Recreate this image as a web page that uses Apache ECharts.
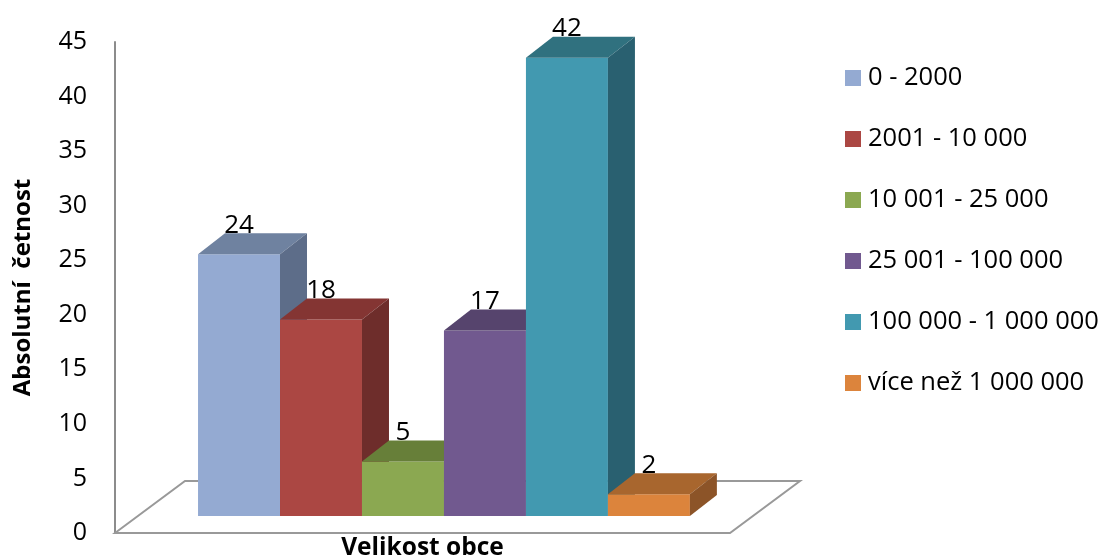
<!DOCTYPE html>
<html>
<head>
<meta charset="utf-8">
<script src="https://cdn.jsdelivr.net/npm/echarts@6/dist/echarts.min.js"></script>
<style>
  html, body { margin: 0; padding: 0; background: #fff; }
  #main { width: 1104px; height: 558px; }
</style>
</head>
<body>
<div id="main"></div>
<script>
// data
var categories = ['Velikost obce'];
var groups = ['0 - 2000', '2001 - 10 000', '10 001 - 25 000', '25 001 - 100 000', '100 000 - 1 000 000', 'více než 1 000 000'];
var counts = [24, 18, 5, 17, 42, 2];
var yMin = 0, yMax = 45, yStep = 5;

// barvy: predni stena, horni stena, bocni stena
var frontCol = ['#94aad2', '#ab4743', '#8ba851', '#71598f', '#4299b0', '#dc843c'];
var topCol   = ['#6f82a0', '#843533', '#677f39', '#56446d', '#30717f', '#a8662e'];
var sideCol  = ['#5d6d89', '#6e2d2b', '#566b30', '#48395c', '#296070', '#8c5428'];

var FONT = 'Open Sans';
var LIFT = 17, DX = 27, DY = 21;

var myChart = echarts.init(document.getElementById('main'));

function floorItem(params, api) {
    var cs = params.coordSys;
    var y0 = api.coord([0, 0])[1];
    var x1 = cs.x, x2 = cs.x + cs.width;
    return {
        type: 'polygon',
        shape: { points: [[x1, y0], [x1 + 70, y0 - 52], [x2 + 70, y0 - 52], [x2, y0]] },
        style: { fill: '#fff', stroke: '#999', lineWidth: 2 }
    };
}

function barItem(i) {
    return function (params, api) {
        var cs = params.coordSys;
        var band = cs.width;
        var base = api.coord([api.value(0), 0]);
        var top = api.coord([api.value(0), api.value(1)]);
        var w = band * 0.1333;
        var x0 = cs.x + band * 0.135 + i * w;
        var yb = base[1] - LIFT, yt = top[1] - LIFT;
        return {
            type: 'group',
            children: [{
                type: 'rect',
                shape: { x: x0, y: yt, width: w, height: yb - yt },
                style: { fill: frontCol[i] }
            }, {
                type: 'polygon',
                shape: { points: [[x0, yt], [x0 + DX, yt - DY], [x0 + w + DX, yt - DY], [x0 + w, yt]] },
                style: { fill: topCol[i] }
            }, {
                type: 'polygon',
                shape: { points: [[x0 + w, yt], [x0 + w + DX, yt - DY], [x0 + w + DX, yb - DY], [x0 + w, yb]] },
                style: { fill: sideCol[i] }
            }, {
                type: 'text',
                style: {
                    text: String(api.value(1)),
                    x: x0 + w / 2, y: yt - DY + 5,
                    align: 'center', verticalAlign: 'bottom',
                    fill: '#000', font: '26px "' + FONT + '"'
                }
            }]
        };
    };
}

var series = [{
    type: 'custom',
    name: 'floor',
    silent: true,
    z: 1,
    renderItem: floorItem,
    data: [[0, 0]]
}];
groups.forEach(function (g, i) {
    series.push({
        type: 'custom',
        name: g,
        z: 2,
        itemStyle: { color: frontCol[i] },
        renderItem: barItem(i),
        encode: { x: 0, y: 1 },
        data: [[0, counts[i]]]
    });
});

myChart.setOption({
    animation: false,
    textStyle: { fontFamily: FONT },
    grid: { left: 115, right: 374, top: 42, bottom: 25, outerBoundsMode: 'none' },
    legend: {
        orient: 'vertical',
        left: 840,
        top: 60,
        itemWidth: 16,
        itemHeight: 16,
        itemGap: 35,
        icon: 'rect',
        data: groups,
        textStyle: { fontSize: 25.5, lineHeight: 26, color: '#000', fontFamily: FONT, padding: [0, 0, 0, 2] }
    },
    xAxis: {
        type: 'category',
        data: categories,
        axisLine: { show: false },
        axisTick: { show: false },
        axisLabel: { fontSize: 24.5, fontWeight: 'bold', color: '#000', margin: 3 }
    },
    yAxis: {
        type: 'value',
        min: yMin,
        max: yMax,
        interval: yStep,
        name: 'Absolutní  četnost',
        nameLocation: 'middle',
        nameGap: 80,
        nameTextStyle: { fontSize: 24, fontWeight: 'bold', color: '#000' },
        axisLine: { show: true, lineStyle: { color: '#8c8c8c', width: 2 } },
        axisTick: { show: false },
        splitLine: { show: false },
        axisLabel: { fontSize: 25, color: '#000', margin: 28 }
    },
    series: series
});
</script>
</body>
</html>
